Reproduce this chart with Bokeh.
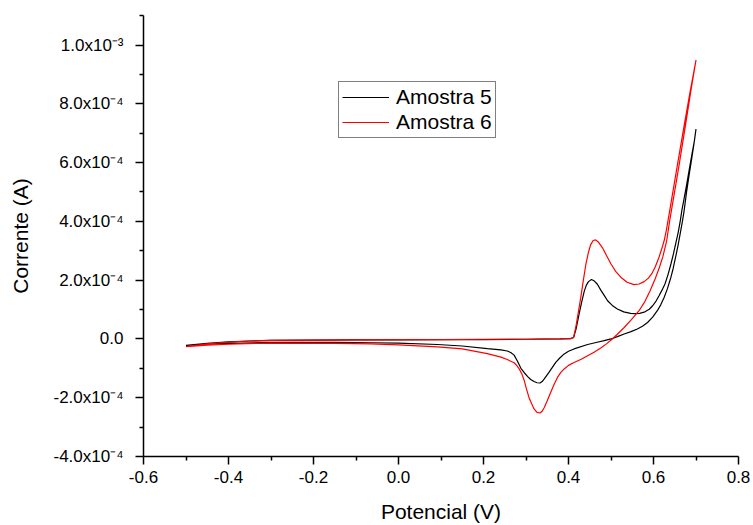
from bokeh.plotting import figure
from bokeh.models import Range1d, FixedTicker
from bokeh.embed import file_html
from bokeh.resources import INLINE

# ---- data (Potencial in V, Corrente in A) ----
am5_x = [-0.50, -0.45, -0.40, -0.35, -0.30, -0.20, -0.10, 0.00, 0.10, 0.20, 0.30, 0.38, 0.405,
         0.412, 0.418, 0.425, 0.431, 0.437, 0.442, 0.447, 0.454, 0.461, 0.468, 0.476, 0.484,
         0.492, 0.503, 0.515, 0.530, 0.546, 0.556, 0.567, 0.578, 0.590, 0.598, 0.606, 0.613,
         0.620, 0.627, 0.634, 0.641, 0.647, 0.652, 0.658, 0.663, 0.667, 0.671, 0.678, 0.684,
         0.690, 0.696, 0.700,
         0.695, 0.689, 0.684, 0.678, 0.672, 0.668, 0.664, 0.658, 0.652, 0.646, 0.641, 0.633,
         0.625, 0.617, 0.609, 0.598, 0.586, 0.574, 0.562, 0.547, 0.531, 0.515, 0.500, 0.484,
         0.465, 0.445, 0.413, 0.400, 0.390, 0.380, 0.370, 0.362, 0.354, 0.343, 0.338, 0.333,
         0.326, 0.319, 0.311, 0.304, 0.296, 0.288, 0.280, 0.272, 0.264, 0.256, 0.241, 0.209,
         0.150, 0.092, 0.000, -0.065, -0.150, -0.300, -0.400, -0.450, -0.500]
am5_y = [-0.22e-4, -0.15e-4, -0.10e-4, -0.07e-4, -0.05e-4, -0.04e-4, -0.03e-4, -0.03e-4, -0.02e-4,
         -0.02e-4, -0.01e-4, 0.0, 0.01e-4,
         0.05e-4, 0.35e-4, 0.85e-4, 1.25e-4, 1.62e-4, 1.83e-4, 1.95e-4, 2.02e-4, 1.97e-4, 1.86e-4,
         1.66e-4, 1.48e-4, 1.30e-4, 1.14e-4, 1.02e-4, 0.92e-4, 0.87e-4, 0.86e-4, 0.87e-4, 0.91e-4,
         1.01e-4, 1.13e-4, 1.29e-4, 1.47e-4, 1.66e-4, 1.87e-4, 2.18e-4, 2.55e-4, 2.90e-4, 3.23e-4,
         3.62e-4, 4.02e-4, 4.40e-4, 4.70e-4, 5.25e-4, 5.75e-4, 6.25e-4, 6.72e-4, 7.14e-4,
         6.62e-4, 6.05e-4, 5.60e-4, 5.02e-4, 4.36e-4, 4.00e-4, 3.68e-4, 3.20e-4, 2.78e-4, 2.38e-4,
         2.10e-4, 1.72e-4, 1.41e-4, 1.16e-4, 0.96e-4, 0.74e-4, 0.56e-4, 0.43e-4, 0.34e-4, 0.25e-4,
         0.17e-4, 0.08e-4, 0.0, -0.06e-4, -0.12e-4, -0.19e-4, -0.34e-4, -0.42e-4, -0.51e-4,
         -0.64e-4, -0.80e-4, -0.97e-4, -1.14e-4, -1.36e-4, -1.45e-4, -1.50e-4, -1.49e-4, -1.45e-4,
         -1.38e-4, -1.28e-4, -1.15e-4, -1.00e-4, -0.76e-4, -0.55e-4, -0.46e-4, -0.41e-4, -0.37e-4,
         -0.33e-4, -0.24e-4, -0.19e-4, -0.14e-4, -0.13e-4, -0.12e-4, -0.12e-4, -0.15e-4, -0.18e-4,
         -0.22e-4]

am6_x = [-0.50, -0.45, -0.40, -0.35, -0.30, -0.20, -0.10, 0.00, 0.10, 0.20, 0.30, 0.38, 0.405,
         0.412, 0.417, 0.423, 0.429, 0.435, 0.441, 0.447, 0.452, 0.458, 0.464, 0.470, 0.480,
         0.490, 0.500, 0.511, 0.523, 0.538, 0.554, 0.566, 0.578, 0.588, 0.596, 0.604, 0.613,
         0.619, 0.625, 0.630, 0.634, 0.638, 0.642, 0.656, 0.672, 0.686, 0.700,
         0.688, 0.675, 0.660, 0.646, 0.642, 0.638, 0.631, 0.622, 0.614, 0.604, 0.592, 0.580,
         0.566, 0.548, 0.531, 0.515, 0.503, 0.490, 0.476, 0.460, 0.445, 0.430, 0.413, 0.400,
         0.390, 0.382, 0.374, 0.366, 0.358, 0.350, 0.343, 0.338, 0.333, 0.326, 0.319, 0.313,
         0.307, 0.301, 0.296, 0.290, 0.284, 0.278, 0.272, 0.264, 0.256, 0.241, 0.209, 0.150,
         0.092, 0.000, -0.065, -0.150, -0.300, -0.400, -0.450, -0.500]
am6_y = [-0.26e-4, -0.17e-4, -0.11e-4, -0.07e-4, -0.05e-4, -0.04e-4, -0.03e-4, -0.02e-4, -0.02e-4,
         -0.01e-4, -0.01e-4, 0.0, 0.01e-4,
         0.05e-4, 0.39e-4, 0.90e-4, 1.42e-4, 2.00e-4, 2.55e-4, 2.95e-4, 3.20e-4, 3.35e-4, 3.37e-4,
         3.30e-4, 3.10e-4, 2.82e-4, 2.55e-4, 2.30e-4, 2.10e-4, 1.93e-4, 1.85e-4, 1.87e-4, 1.95e-4,
         2.07e-4, 2.22e-4, 2.45e-4, 2.78e-4, 3.05e-4, 3.34e-4, 3.68e-4, 4.02e-4, 4.35e-4, 4.70e-4,
         5.90e-4, 7.25e-4, 8.40e-4, 9.49e-4,
         8.45e-4, 7.25e-4, 5.90e-4, 4.70e-4, 4.36e-4, 4.02e-4, 3.34e-4, 2.80e-4, 2.44e-4, 2.05e-4,
         1.64e-4, 1.28e-4, 0.96e-4, 0.66e-4, 0.39e-4, 0.16e-4, 0.0, -0.16e-4, -0.31e-4, -0.45e-4,
         -0.57e-4, -0.69e-4, -0.80e-4, -0.90e-4, -1.02e-4, -1.14e-4, -1.31e-4, -1.55e-4, -1.82e-4,
         -2.10e-4, -2.33e-4, -2.46e-4, -2.52e-4, -2.50e-4, -2.38e-4, -2.20e-4, -1.99e-4, -1.70e-4,
         -1.42e-4, -1.18e-4, -1.02e-4, -0.90e-4, -0.81e-4, -0.76e-4, -0.70e-4, -0.62e-4, -0.50e-4,
         -0.34e-4, -0.27e-4, -0.20e-4, -0.17e-4, -0.15e-4, -0.14e-4, -0.18e-4, -0.21e-4, -0.26e-4]

series_names = ["Amostra 5", "Amostra 6"]
x_ticks = [-0.6, -0.4, -0.2, 0.0, 0.2, 0.4, 0.6, 0.8]
x_minor = [-0.5, -0.3, -0.1, 0.1, 0.3, 0.5, 0.7]
x_tick_labels = ["-0.6", "-0.4", "-0.2", "0.0", "0.2", "0.4", "0.6", "0.8"]
y_ticks = [-4e-4, -2e-4, 0.0, 2e-4, 4e-4, 6e-4, 8e-4, 1e-3]
y_minor = [-3e-4, -1e-4, 1e-4, 3e-4, 5e-4, 7e-4, 9e-4, 1.1e-3]
y_tick_labels = ["-4.0x10\u207b\u2074", "-2.0x10\u207b\u2074", "0.0", "2.0x10\u207b\u2074",
                 "4.0x10\u207b\u2074", "6.0x10\u207b\u2074", "8.0x10\u207b\u2074", "1.0x10\u207b\u00b3"]

FONT = "Liberation Sans"

p = figure(width=753, height=525, output_backend="svg", toolbar_location=None,
           x_range=Range1d(-0.6, 0.8), y_range=Range1d(-4e-4, 1.1005e-3),
           min_border_left=143, min_border_right=15, min_border_top=15, min_border_bottom=69,
           x_axis_label="Potencial (V)", y_axis_label="Corrente (A)")
p.outline_line_color = None
p.grid.visible = False
p.background_fill_color = "white"
p.border_fill_color = "white"

p.line(am5_x, am5_y, line_color="black", line_width=1.2, legend_label=series_names[0])
p.line(am6_x, am6_y, line_color="#ff0000", line_width=1.2, legend_label=series_names[1])

p.xaxis.ticker = FixedTicker(ticks=x_ticks, minor_ticks=x_minor)
p.xaxis.major_label_overrides = dict(zip(x_ticks, x_tick_labels))
p.yaxis.ticker = FixedTicker(ticks=y_ticks, minor_ticks=y_minor)
p.yaxis.major_label_overrides = dict(zip(y_ticks, y_tick_labels))

for ax in (p.xaxis[0], p.yaxis[0]):
    ax.axis_line_color = "black"
    ax.axis_line_width = 1.5
    ax.major_tick_line_color = "black"
    ax.major_tick_line_width = 1.5
    ax.minor_tick_line_color = "black"
    ax.minor_tick_line_width = 1.5
    ax.major_tick_out = 8
    ax.major_tick_in = 0
    ax.minor_tick_out = 4
    ax.minor_tick_in = 0
    ax.major_label_text_font = FONT
    ax.major_label_text_font_size = "17px"
    ax.major_label_text_color = "black"
    ax.axis_label_text_font = FONT
    ax.axis_label_text_font_size = "21px"
    ax.axis_label_text_font_style = "normal"
    ax.axis_label_text_color = "black"

p.xaxis.major_label_standoff = 6
p.xaxis.axis_label_standoff = 14
p.yaxis.major_label_standoff = 12
p.yaxis.axis_label_standoff = 18

lg = p.legend[0]
lg.location = (195, 318)
lg.label_text_font = FONT
lg.label_text_font_size = "21px"
lg.label_text_color = "black"
lg.border_line_color = "black"
lg.border_line_width = 1
lg.background_fill_color = "white"
lg.background_fill_alpha = 1
lg.glyph_width = 47
lg.glyph_height = 22
lg.label_height = 22
lg.label_standoff = 7
lg.padding = 3
lg.spacing = 1
lg.margin = 0

open("out.html", "w").write(file_html(p, INLINE))
